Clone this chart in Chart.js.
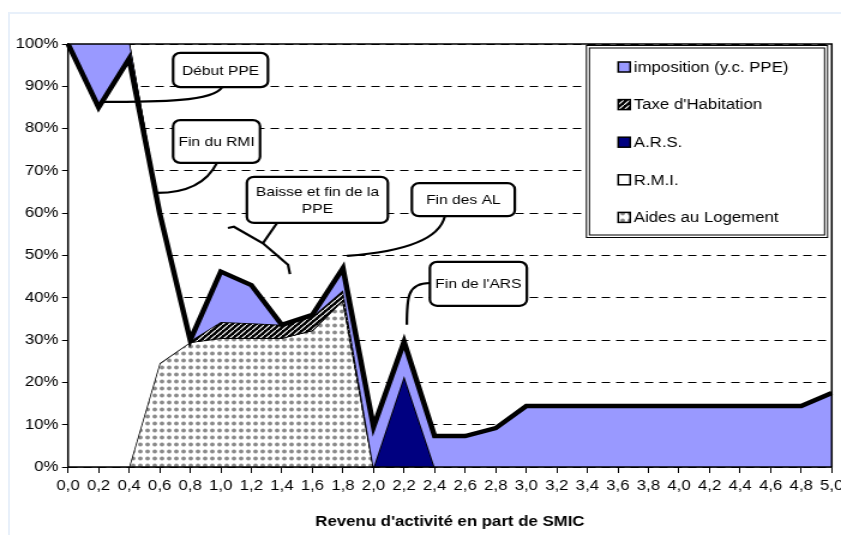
<!DOCTYPE html>
<html>
<head>
<meta charset="utf-8">
<script src="https://cdn.jsdelivr.net/npm/chart.js@4.4.0/dist/chart.umd.min.js"></script>
<style>
body { margin: 0; background: #fff; }
#frame { position: absolute; left: 8px; top: 12px; right: 0; bottom: 0; border-top: 2px solid #e8f0fa; border-left: 2px solid #e8f0fa; }
/* the original picture is stretched sideways, so the canvas is too */
#wrap { position: absolute; left: 0; top: 0; width: 701px; height: 535px; transform: scaleX(1.19971); transform-origin: 0 0; }
</style>
</head>
<body>
<div id="frame"></div>
<div id="wrap"><canvas id="myChart" width="701" height="535"></canvas></div>
<script>
// revenu d'activite en part de SMIC
const revenu = ['0,0','0,2','0,4','0,6','0,8','1,0','1,2','1,4','1,6','1,8','2,0','2,2','2,4',
    '2,6','2,8','3,0','3,2','3,4','3,6','3,8','4,0','4,2','4,4','4,6','4,8','5,0'];

// taux marginal, en % (composantes empilees)
const aidesLogement = [0, 0, 0, 24.5, 29.5, 30.5, 30.5, 30.5, 32.3, 39.5, 0, 0, 0,
    0, 0, 0, 0, 0, 0, 0, 0, 0, 0, 0, 0, 0];
const rmi = [100, 100, 100, 35.5, 0, 0, 0, 0, 0, 0, 0, 0, 0,
    0, 0, 0, 0, 0, 0, 0, 0, 0, 0, 0, 0, 0];
const ars = [0, 0, 0, 0, 0, 0, 0, 0, 0, 0, 0, 21.5, 0,
    0, 0, 0, 0, 0, 0, 0, 0, 0, 0, 0, 0, 0];
const taxeHabitation = [0, 0, 0, 0, 0.3, 3.8, 3.5, 3.1, 3.2, 2.3, 0, 0, 0,
    0, 0, 0, 0, 0, 0, 0, 0, 0, 0, 0, 0, 0];
const imposition = [0, -15, -3.5, 0, 0.2, 11.9, 9, 0, 0.5, 5.2, 9.5, 8.1, 7.3,
    7.3, 9.2, 14.4, 14.4, 14.4, 14.4, 14.4, 14.4, 14.4, 14.4, 14.4, 14.4, 17.5];

const yTicks = [0, 10, 20, 30, 40, 50, 60, 70, 80, 90, 100];

// callouts, in (revenu, %) coordinates
const callouts = [
    { text: ['Début PPE'], box: [0.688, 97.9, 1.309, 89.8],
      tail: [['c', [1.008, 89.8], [0.95, 86.4], [0.60, 86.3], [0.209, 86.3]]] },
    { text: ['Fin du RMI'], box: [0.688, 82.0, 1.257, 71.9],
      tail: [['c', [0.975, 71.9], [0.90, 66.5], [0.75, 64.8], [0.582, 64.8]]] },
    { text: ['Baisse et fin de la', 'PPE'], box: [1.171, 68.6, 2.094, 57.7],
      tail: [['l', [1.368, 57.7], [1.276, 52.9]],
             ['l', [1.047, 56.5], [1.086, 56.8], [1.276, 52.9], [1.44, 47.8], [1.453, 45.6]]] },
    { text: ['Fin des AL'], box: [2.251, 67.1, 2.925, 59.3],
      tail: [['c', [2.467, 59.3], [2.43, 53.5], [2.17, 50.8], [1.826, 49.9]]] },
    { text: ["Fin de l'ARS"], box: [2.369, 48.5, 3.004, 38.1],
      tail: [['c', [2.369, 43.5], [2.22, 43.5], [2.218, 40], [2.218, 33.6]]] }
];

const FONT = '"Liberation Sans", Arial, sans-serif';
Chart.defaults.font.family = FONT;
Chart.defaults.font.size = 14;
Chart.defaults.color = '#000';

const ctx = document.getElementById('myChart');
const c2d = ctx.getContext('2d');

// grey dots (Aides au Logement)
function dotPattern() {
    const c = document.createElement('canvas');
    c.width = 6; c.height = 7;
    const g = c.getContext('2d');
    g.fillStyle = '#fff';
    g.fillRect(0, 0, 6, 7);
    g.fillStyle = '#8a8a8a';
    g.beginPath();
    g.ellipse(3, 3.5, 1.9, 2.1, 0, 0, Math.PI * 2);
    g.fill();
    return c2d.createPattern(c, 'repeat');
}
// black with white diagonals (Taxe d'Habitation)
function hatchPattern() {
    const c = document.createElement('canvas');
    c.width = 5; c.height = 5;
    const g = c.getContext('2d');
    g.fillStyle = '#000';
    g.fillRect(0, 0, 5, 5);
    g.strokeStyle = '#fff';
    g.lineWidth = 1.2;
    g.beginPath();
    g.moveTo(-1, 6); g.lineTo(6, -1);
    g.stroke();
    return c2d.createPattern(c, 'repeat');
}

// running totals, so each area fills down to the one below it
const parts = [aidesLogement, rmi, ars, taxeHabitation, imposition];
let running = revenu.map(() => 0);
const cumul = parts.map(p => (running = running.map((v, i) => v + p[i])));

const boxLegend = {
    id: 'boxLegend',
    afterDraw(chart) {
        const { ctx, chartArea: a } = chart;
        const w = 201, h = 192;
        const x0 = a.right - 4 - w, y0 = a.top + 1;
        ctx.save();
        ctx.fillStyle = '#fff';
        ctx.fillRect(x0, y0, w, h);
        ctx.strokeStyle = '#000';
        ctx.lineWidth = 1;
        ctx.strokeRect(x0 + 0.5, y0 + 0.5, w, h);
        ctx.strokeRect(x0 + 3, y0 + 3, w - 5, h - 5);
        ctx.font = '14px ' + FONT;
        ctx.textBaseline = 'middle';
        const list = chart.data.datasets.slice().reverse();
        list.forEach((ds, k) => {
            const y = y0 + 22 + k * 37.6;
            ctx.fillStyle = ds.backgroundColor;
            ctx.fillRect(x0 + 27, y - 5, 10, 10);
            ctx.lineWidth = 1.5;
            ctx.strokeRect(x0 + 27, y - 5, 10, 10);
            ctx.fillStyle = '#000';
            ctx.fillText(ds.label, x0 + 40, y + 1);
        });
        ctx.restore();
    }
};

const calloutPlugin = {
    id: 'callouts',
    afterDraw(chart) {
        const { ctx, chartArea: a } = chart;
        const ys = chart.scales.y;
        const X = r => a.left + r / 5 * (a.right - a.left);
        const Y = p => ys.getPixelForValue(p);
        ctx.save();
        ctx.strokeStyle = '#000';
        ctx.lineWidth = 2.2;
        callouts.forEach(co => {
            co.tail.forEach(([kind, ...pts]) => {
                ctx.beginPath();
                ctx.moveTo(X(pts[0][0]), Y(pts[0][1]));
                if (kind === 'c') {
                    ctx.bezierCurveTo(X(pts[1][0]), Y(pts[1][1]), X(pts[2][0]), Y(pts[2][1]), X(pts[3][0]), Y(pts[3][1]));
                } else {
                    pts.slice(1).forEach(p => ctx.lineTo(X(p[0]), Y(p[1])));
                }
                ctx.stroke();
            });
            const [r0, p0, r1, p1] = co.box;
            const bx = X(r0), by = Y(p0), bw = X(r1) - bx, bh = Y(p1) - by;
            ctx.beginPath();
            ctx.roundRect(bx, by, bw, bh, 6);
            ctx.fillStyle = '#fff';
            ctx.fill();
            ctx.stroke();
            ctx.fillStyle = '#000';
            ctx.font = '13px ' + FONT;
            ctx.textAlign = 'center';
            ctx.textBaseline = 'middle';
            const lh = 17;
            co.text.forEach((t, i) => {
                ctx.fillText(t, bx + bw / 2, by + bh / 2 + (i - (co.text.length - 1) / 2) * lh + 1);
            });
        });
        ctx.restore();
    }
};

const plotFrame = {
    id: 'plotFrame',
    afterDatasetsDraw(chart) {
        const { ctx, chartArea: a } = chart;
        ctx.save();
        ctx.strokeStyle = '#000';
        ctx.lineWidth = 1.5;
        ctx.strokeRect(a.left, a.top, a.right - a.left, a.bottom - a.top);
        ctx.restore();
    }
};

const myChart = new Chart(ctx, {
    type: 'line',
    data: {
        labels: revenu,
        datasets: [{
            label: 'Aides au Logement',
            data: cumul[0],
            backgroundColor: dotPattern(),
            borderColor: '#000',
            borderWidth: 1.5,
            fill: 'origin',
            order: 4
        },
        {
            label: 'R.M.I.',
            data: cumul[1],
            backgroundColor: '#ffffff',
            borderColor: '#000',
            borderWidth: 1,
            fill: '-1',
            order: 3
        },
        {
            label: 'A.R.S.',
            data: cumul[2],
            backgroundColor: '#000080',
            borderColor: '#000',
            borderWidth: 1.5,
            fill: '-1',
            order: 2
        },
        {
            label: "Taxe d'Habitation",
            data: cumul[3],
            backgroundColor: hatchPattern(),
            borderColor: '#000',
            borderWidth: 1.5,
            fill: '-1',
            order: 1
        },
        {
            label: 'imposition (y.c. PPE)',
            data: cumul[4],
            backgroundColor: '#9999ff',
            borderColor: '#000',
            borderWidth: 4.5,
            borderJoinStyle: 'miter',
            fill: '-1',
            order: 0
        }]
    },
    options: {
        responsive: false,
        animation: false,
        layout: { padding: { left: 0, right: 7.7, top: 44, bottom: 0 } },
        elements: { point: { radius: 0 }, line: { tension: 0 } },
        plugins: {
            legend: { display: false },
            tooltip: { enabled: false }
        },
        scales: {
            x: {
                offset: false,
                grid: { drawOnChartArea: false, color: '#000', tickColor: '#000', tickLength: 6, lineWidth: 1 },
                border: { color: '#000', width: 1.5 },
                ticks: { autoSkip: false, maxRotation: 0, minRotation: 0, padding: 5, color: '#000' },
                title: {
                    display: true,
                    text: "Revenu d'activité en part de SMIC",
                    font: { size: 14, weight: 'bold' },
                    color: '#000',
                    padding: { top: 4, bottom: 4 }
                },
                afterFit: s => { s.height = 68; s.paddingLeft = 0; s.paddingRight = 0; }
            },
            y: {
                min: 0,
                max: 100,
                afterBuildTicks: s => { s.ticks = yTicks.map(v => ({ value: v })); },
                ticks: { callback: v => v + '%', padding: 3, color: '#000' },
                grid: { color: '#000', tickColor: '#000', tickLength: 5, lineWidth: 1 },
                border: { color: '#000', width: 1.5, dash: [7, 5] },
                afterFit: s => { s.width = 56.7; }
            }
        }
    },
    plugins: [plotFrame, boxLegend, calloutPlugin]
});
</script>
</body>
</html>
